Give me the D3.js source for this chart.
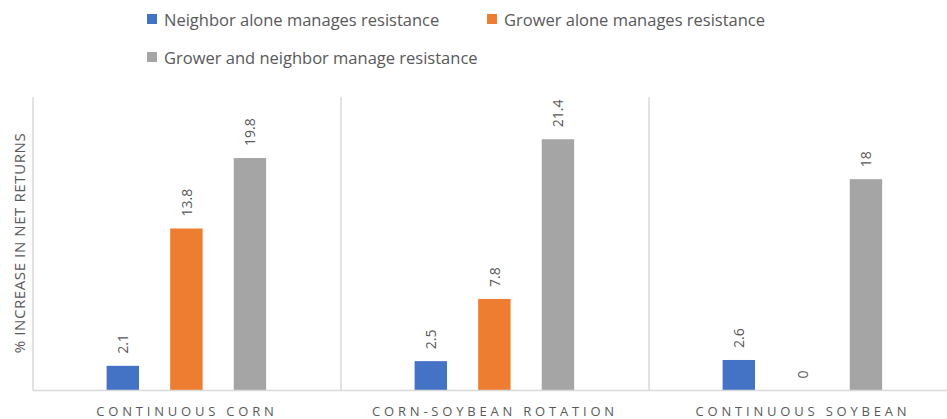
<!DOCTYPE html>
<html><head><meta charset="utf-8">
<script src="https://cdn.jsdelivr.net/npm/d3@7"></script>
<style>html,body{margin:0;padding:0;background:#fff;overflow:hidden}</style>
</head><body>
<svg id="c" width="947" height="419"></svg>
<script>
const categories = ["CONTINUOUS CORN", "CORN-SOYBEAN ROTATION", "CONTINUOUS SOYBEAN"];
const seriesNames = ["Neighbor alone manages resistance", "Grower alone manages resistance", "Grower and neighbor manage resistance"];
const neighborAlone = [2.1, 2.5, 2.6];
const growerAlone = [13.8, 7.8, 0];
const growerAndNeighbor = [19.8, 21.4, 18];
const colors = ["#4472C4", "#ED7D31", "#A5A5A5"];
const yTitle = "% INCREASE IN NET RETURNS";

const series = [neighborAlone, growerAlone, growerAndNeighbor];
const svg = d3.select("#c");
const font = "'Open Sans', 'Noto Sans', sans-serif";
const textCol = "#595959";
const lineCol = "#d9d9d9";

const pLeft = 33, pRight = 957, pTop = 97, pBottom = 390.5;
const x0 = d3.scaleBand().domain(categories).range([pLeft, pRight]).paddingInner(0).paddingOuter(0);
const x1 = d3.scaleBand().domain(d3.range(3)).range([x0.bandwidth()*0.239, x0.bandwidth()*0.757]).paddingInner(0.49).paddingOuter(0);
const y = d3.scaleLinear().domain([0, 25]).range([pBottom, pTop]);

// separators
const seps = [pLeft, ...categories.map(c => x0(c) + x0.bandwidth())];
svg.append("g").selectAll("line").data(seps).join("line")
  .attr("x1", d => d).attr("x2", d => d).attr("y1", pTop).attr("y2", pBottom)
  .attr("stroke", lineCol).attr("stroke-width", 1.5);

// bars
const g = svg.append("g");
categories.forEach((c, ci) => {
  series.forEach((s, si) => {
    const v = s[ci];
    const bx = x0(c) + x1(si);
    g.append("rect").attr("x", bx).attr("y", y(v)).attr("width", x1.bandwidth()).attr("height", y(0) - y(v))
      .attr("fill", colors[si]);
    const cx = bx + x1.bandwidth()/2;
    const ty = y(v) - 12;
    g.append("text").attr("transform", `translate(${cx},${ty}) rotate(-90)`)
      .attr("dominant-baseline", "central").attr("text-anchor", "start")
      .attr("font-family", font).attr("font-size", 14).attr("fill", textCol).text(v);
  });
});

// baseline
svg.append("line").attr("x1", pLeft).attr("x2", pRight).attr("y1", pBottom).attr("y2", pBottom)
  .attr("stroke", lineCol).attr("stroke-width", 1.5);

// category labels
svg.append("g").selectAll("text").data(categories).join("text")
  .attr("x", d => x0(d) + x0.bandwidth()/2).attr("y", 416)
  .attr("text-anchor", "middle").attr("font-family", font).attr("font-size", 13)
  .attr("letter-spacing", 3.8).attr("fill", textCol).text(d => d);

// y title
svg.append("text").attr("transform", "translate(19,243) rotate(-90)")
  .attr("text-anchor", "middle").attr("dominant-baseline", "central")
  .attr("font-family", font).attr("font-size", 15).attr("letter-spacing", 0.6).attr("fill", textCol).text(yTitle);

// legend
const legPos = [[147, 19], [487, 19], [147, 57]];
const lg = svg.append("g").selectAll("g").data(seriesNames).join("g")
  .attr("transform", (d, i) => `translate(${legPos[i][0]},${legPos[i][1]})`);
lg.append("rect").attr("x", 0).attr("y", -5).attr("width", 10).attr("height", 10).attr("fill", (d, i) => colors[i]);
lg.append("text").attr("x", 17).attr("y", 0).attr("dominant-baseline", "central")
  .attr("font-family", font).attr("font-size", 16.5).attr("fill", textCol).text(d => d);
</script>
</body></html>
